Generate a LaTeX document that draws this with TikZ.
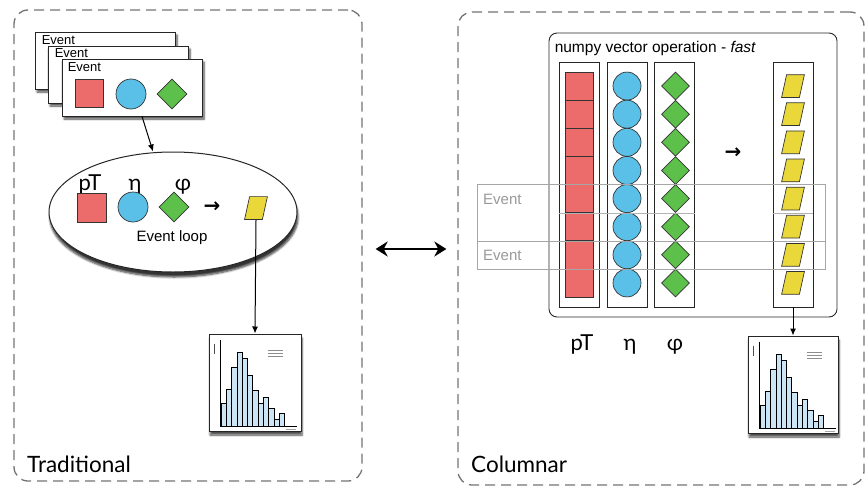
\documentclass[tikz,border=0pt]{standalone}
\usepackage{fontspec}
\setmainfont{Liberation Sans}
\newfontfamily\gillfont{Lato}
\newfontfamily\symfont{DejaVu Sans}
\usetikzlibrary{shapes.geometric,shadows,shadows.blur,arrows.meta}

\definecolor{cellred}{HTML}{EC6B6B}
\definecolor{cellblue}{HTML}{5BC0E8}
\definecolor{cellgreen}{HTML}{5CC04A}
\definecolor{cellyellow}{HTML}{EAD83A}
\definecolor{barblue}{HTML}{CBE5F4}

\tikzset{
  panel/.style={draw=black!55, dash pattern=on 10pt off 6pt, line width=1.3pt,
    rounded corners=14pt, inner sep=0pt},
  card/.style={draw=black!85, fill=white, line width=0.8pt, inner sep=0pt,
    minimum width=140, minimum height=57,
    blur shadow={shadow xshift=2pt, shadow yshift=-3pt, shadow blur steps=6, shadow opacity=70}},
  cardtxt/.style={anchor=north west, inner sep=0pt, font=\fontsize{13}{15}\selectfont},
  redcell/.style={draw=black!80, fill=cellred, line width=0.7pt, inner sep=0pt},
  bluecell/.style={circle, draw=black!80, fill=cellblue, line width=0.7pt, inner sep=0pt},
  greencell/.style={diamond, draw=black!80, fill=cellgreen, line width=0.7pt, inner sep=0pt},
  outcell/.style={inner sep=0pt, minimum width=24, minimum height=24,
    path picture={\draw[draw=black!80, fill=cellyellow, line width=0.7pt]
      ([shift={(0.6pt,0.6pt)}]path picture bounding box.south west)
      -- ([shift={(-5.6pt,0.6pt)}]path picture bounding box.south east)
      -- ([shift={(-0.6pt,-0.6pt)}]path picture bounding box.north east)
      -- ([shift={(5.6pt,-0.6pt)}]path picture bounding box.north west) -- cycle;}},
  column/.style={draw=black!85, line width=0.8pt, inner sep=0pt, minimum width=40, minimum height=245},
  histbox/.style={draw=black!85, fill=white, line width=1pt, inner sep=0pt,
    blur shadow={shadow xshift=1pt, shadow yshift=-4pt, shadow blur steps=6, shadow opacity=70}},
  varlbl/.style={anchor=base, font=\gillfont\fontsize{22}{24}\selectfont},
  panellbl/.style={anchor=base west, inner sep=0pt, font=\gillfont\fontsize{22.5}{24}\selectfont},
  evtrow/.style={draw=black!35, line width=0.6pt, inner sep=0pt, minimum width=348},
  evttxt/.style={anchor=west, inner sep=0pt, text=black!40, font=\fontsize{15}{17}\selectfont},
  flow/.style={-{Latex[length=7pt,width=6pt]}, line width=1pt},
  bigarrow/.style={{Stealth[length=12pt,width=15pt]}-{Stealth[length=12pt,width=15pt]}, line width=2.6pt},
  smallarr/.style={font=\symfont\bfseries\fontsize{20}{22}\selectfont, inner sep=0pt}
}

% histogram drawn inside a box node, coordinates from its top left corner
\newcommand{\histo}[1]{%
  \begin{scope}[shift={(#1.north west)}]
    \draw[black!70, line width=0.5pt] (6,10) -- (6,20);
    \foreach \h [count=\k from 0] in {23,37,59,74,68,51,36,23,29,18,7,13}
      \draw[fill=barblue, line width=0.8pt] ({12.5+5.3*\k},93) rectangle ++(5.3,-\h);
    \draw[line width=1pt] (12,6) -- (12,93) -- (88,93);
    \draw[black!45, line width=0.7pt] (59,17) -- (74,17) (59,20) -- (74,20) (59,23) -- (74,23);
    \draw[black!35, line width=0.7pt] (77,96) -- (87,96);
  \end{scope}}

\begin{document}
\begin{tikzpicture}[x=1pt, y=-1pt]
  \useasboundingbox (0,0) rectangle (866,487);

  % the two panels
  \node[panel, minimum width=348, minimum height=471] (trad) at (188,245.5) {};
  \node[panel, minimum width=406, minimum height=473] (colm) at (661,248.5) {};
  \node[panellbl] (tradlbl) at (27,472) {Traditional};
  \node[panellbl] (colmlbl) at (471,472) {Columnar};
  \draw[bigarrow, shorten <=13pt, shorten >=11pt] (trad.east |- 0,249) -- (colm.west |- 0,249);

  % traditional: stacked events
  \node[card] (card1) at (105,60.5) {};
  \node[cardtxt] (lbl1) at ([shift={(7,4)}]card1.north west) {Event};
  \node[card] (card2) at (118,74.5) {};
  \node[cardtxt] (lbl2) at ([shift={(7,3)}]card2.north west) {Event};
  \node[card] (card3) at (132,87.5) {};
  \node[cardtxt] (lbl3) at ([shift={(6,4)}]card3.north west) {Event};
  \node[redcell, minimum size=28] (cpt) at (89,93.5) {};
  \node[bluecell, minimum size=30] (ceta) at (131,94) {};
  \node[greencell, minimum size=30] (cphi) at (172,94) {};

  % event loop
  \node[ellipse, draw=black!85, fill=white, line width=1pt, minimum width=248, minimum height=120,
    blur shadow={shadow xshift=1pt, shadow yshift=-5pt, shadow blur steps=6, shadow opacity=80}] (loop) at (173,212) {};
  \draw[flow] ([xshift=10pt]card3.south) -- ([xshift=-20pt]loop.north);
  \node[varlbl] (lpt) at (90,190) {pT};
  \node[varlbl] (leta) at (135,190) {η};
  \node[varlbl] (lphi) at (183,190) {φ};
  \node[redcell, minimum size=29] (ept) at (91.5,207.5) {};
  \node[bluecell, minimum size=30] (eeta) at (133,207) {};
  \node[greencell, minimum size=30] (ephi) at (174,207) {};
  \node[smallarr] (earr) at (212,207) {→};
  \node[outcell] (eout) at (256,208) {};
  \node[inner sep=0pt, font=\fontsize{15}{17}\selectfont] (looplbl) at (172,238) {Event loop};

  \node[histbox, minimum width=92, minimum height=97] (histL) at (255,382.5) {};
  \histo{histL}
  \draw[flow] (eout.south) -- (histL.north);

  % columnar: numpy operation on whole columns
  \node[draw=black!85, line width=0.9pt, rounded corners=8pt, minimum width=288, minimum height=284] (nump) at (693,175) {};
  \node[anchor=north west, inner sep=0pt, font=\fontsize{15.5}{18}\selectfont] (numplbl) at ([shift={(6,9)}]nump.north west) {numpy vector operation - \textit{fast}};
  \node[column] (colpt) at (579,184.5) {};
  \node[column] (coleta) at (627,184.5) {};
  \node[column] (colphi) at (674.5,184.5) {};
  \node[column] (colout) at (793,184.5) {};
  \foreach \i in {0,...,7} {
    \node[redcell, minimum width=28, minimum height=28.1] (pt\i) at (579,{86.06+28.125*\i}) {};
    \node[bluecell, minimum size=28] (eta\i) at (627,{86.06+28.125*\i}) {};
    \node[greencell, minimum size=28] (phi\i) at (675.5,{86.06+28.125*\i}) {};
    \node[outcell] (out\i) at (793,{86.06+28.125*\i}) {};
  }
  \node[smallarr] (carr) at (733,153) {→};

  % events as rows across the columns
  \node[evtrow, minimum height=57, anchor=north west] (evt1) at (477,184) {};
  \node[evtrow, minimum height=28, anchor=north west] (evt2) at (477,241) {};
  \node[evttxt] (evt1lbl) at ([xshift=6pt]evt1.west |- 0,199) {Event};
  \node[evttxt] (evt2lbl) at ([xshift=6pt]evt2.west) {Event};
  \draw[black!30, line width=0.5pt] (colpt.west |- 0,213) -- (colphi.east |- 0,213)
    (colout.west |- 0,213) -- (colout.east |- 0,213);

  \node[varlbl] (cpt) at (582,350) {pT};
  \node[varlbl] (ceta) at (630,350) {η};
  \node[varlbl] (cphi) at (675,350) {φ};

  \node[histbox, minimum width=90, minimum height=97] (histR) at (793,384.5) {};
  \histo{histR}
  \draw[flow] (colout.south) -- (histR.north);
\end{tikzpicture}
\end{document}
